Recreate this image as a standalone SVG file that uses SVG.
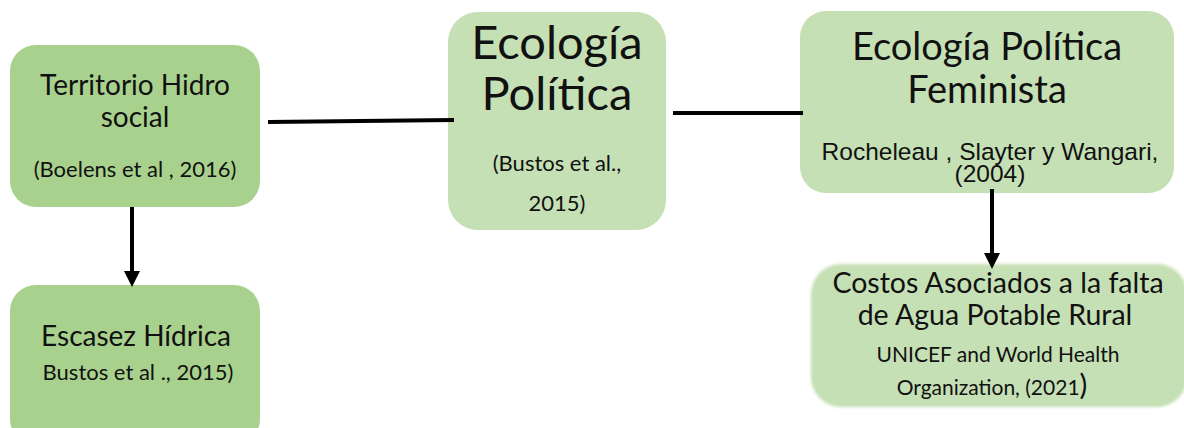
<svg xmlns="http://www.w3.org/2000/svg" width="1184" height="428" viewBox="0 0 1184 428">
<defs>
<style>
.dark{fill:#a9d18e}
.light{fill:#c5e0b4}
.t{font-family:Lato,"Open Sans","Liberation Sans",sans-serif;fill:#111;text-anchor:middle}
.a{font-family:"Liberation Sans",Arial,sans-serif;fill:#111;text-anchor:middle}
.ln{stroke:#000;stroke-width:4;fill:none}
</style>
<marker id="ah" markerWidth="4" markerHeight="4" refX="0" refY="2" orient="auto" markerUnits="strokeWidth" viewBox="0 0 4 4">
<path d="M0,0 L4,2 L0,4 Z" fill="#000"/>
</marker>
<filter id="soft" x="-5%" y="-10%" width="110%" height="120%"><feGaussianBlur stdDeviation="1.6"/></filter>
</defs>
<g id="n1">
<rect class="dark" x="10" y="45" width="250" height="162" rx="26"/>
<text class="t" x="135" y="95" font-size="28">Territorio Hidro</text>
<text class="t" x="135" y="127" font-size="28">social</text>
<text class="t" x="135" y="177" font-size="22">(Boelens et al , 2016)</text>
</g>
<g id="n2">
<rect class="dark" x="10" y="285" width="250" height="160" rx="26"/>
<text class="t" x="136" y="346" font-size="28">Escasez Hídrica</text>
<text class="t" x="138" y="380" font-size="22">Bustos et al ., 2015)</text>
</g>
<g id="n3">
<rect class="light" x="448" y="12" width="218" height="218" rx="30"/>
<text class="t" x="557" y="59" font-size="47">Ecología</text>
<text class="t" x="557" y="110" font-size="47">Política</text>
<text class="t" x="557" y="171" font-size="22">(Bustos et al.,</text>
<text class="t" x="557" y="211" font-size="22">2015)</text>
</g>
<g id="n4">
<rect class="light" x="800" y="11" width="374" height="182" rx="26"/>
<text class="t" x="987" y="60" font-size="38">Ecología Política</text>
<text class="t" x="987" y="103" font-size="38">Feminista</text>
<text class="a" x="990" y="160" font-size="24.5">Rocheleau , Slayter y Wangari,</text>
<text class="a" x="990" y="182" font-size="24.5">(2004)</text>
</g>
<g id="n5">
<rect class="light" x="811" y="264" width="376" height="143" rx="30" filter="url(#soft)"/>
<text class="t" x="998" y="293" font-size="28.5">Costos Asociados a la falta</text>
<text class="t" x="995" y="325" font-size="28.5">de Agua Potable Rural</text>
<text class="t" x="998" y="362" font-size="21">UNICEF and World Health</text>
<text class="t" x="992" y="395" font-size="21">Organization, (2021<tspan font-size="29">)</tspan></text>
</g>
<g id="connectors">
<line class="ln" x1="268" y1="122" x2="454" y2="120"/>
<line class="ln" x1="673" y1="113" x2="803" y2="113"/>
<line class="ln" x1="132" y1="207" x2="132" y2="271" stroke-width="3.5" marker-end="url(#ah)"/>
<line class="ln" x1="992" y1="189" x2="992" y2="253" stroke-width="2.5" marker-end="url(#ah)"/>
</g>
</svg>
